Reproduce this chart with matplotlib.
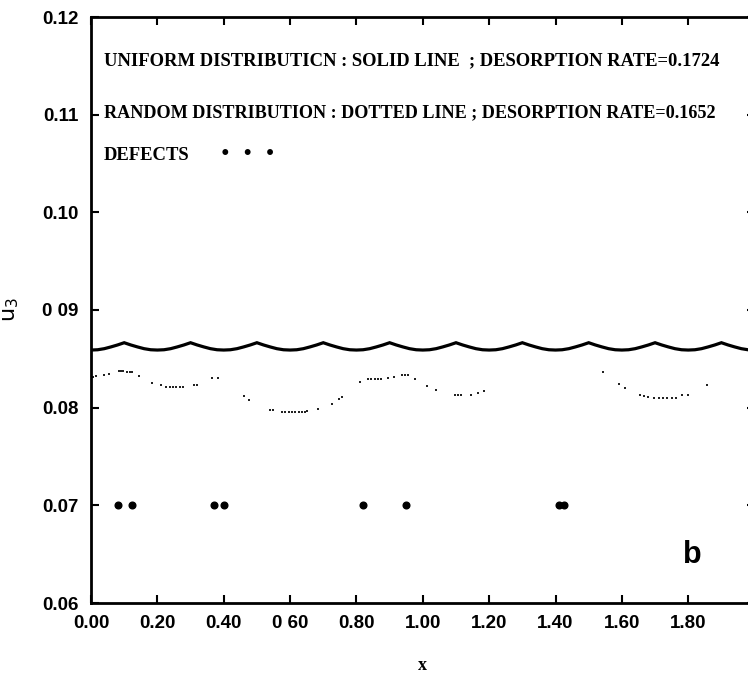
import numpy as np
import matplotlib
matplotlib.use("Agg")
import matplotlib.pyplot as plt

# uniform distribution (solid line)
ux = [0.00, 0.02, 0.04, 0.06, 0.08, 0.10, 0.12, 0.14, 0.16, 0.18,
      0.20, 0.22, 0.24, 0.26, 0.28, 0.30, 0.32, 0.34, 0.36, 0.38,
      0.40, 0.42, 0.44, 0.46, 0.48, 0.50, 0.52, 0.54, 0.56, 0.58,
      0.60, 0.62, 0.64, 0.66, 0.68, 0.70, 0.72, 0.74, 0.76, 0.78,
      0.80, 0.82, 0.84, 0.86, 0.88, 0.90, 0.92, 0.94, 0.96, 0.98,
      1.00, 1.02, 1.04, 1.06, 1.08, 1.10, 1.12, 1.14, 1.16, 1.18,
      1.20, 1.22, 1.24, 1.26, 1.28, 1.30, 1.32, 1.34, 1.36, 1.38,
      1.40, 1.42, 1.44, 1.46, 1.48, 1.50, 1.52, 1.54, 1.56, 1.58,
      1.60, 1.62, 1.64, 1.66, 1.68, 1.70, 1.72, 1.74, 1.76, 1.78,
      1.80, 1.82, 1.84, 1.86, 1.88, 1.90, 1.92, 1.94, 1.96, 1.98, 2.00]
uy = [0.08590, 0.08593, 0.08604, 0.08622, 0.08642, 0.08665, 0.08642, 0.08622, 0.08604, 0.08593,
      0.08590, 0.08593, 0.08604, 0.08622, 0.08642, 0.08665, 0.08642, 0.08622, 0.08604, 0.08593,
      0.08590, 0.08593, 0.08604, 0.08622, 0.08642, 0.08665, 0.08642, 0.08622, 0.08604, 0.08593,
      0.08590, 0.08593, 0.08604, 0.08622, 0.08642, 0.08665, 0.08642, 0.08622, 0.08604, 0.08593,
      0.08590, 0.08593, 0.08604, 0.08622, 0.08642, 0.08665, 0.08642, 0.08622, 0.08604, 0.08593,
      0.08590, 0.08593, 0.08604, 0.08622, 0.08642, 0.08665, 0.08642, 0.08622, 0.08604, 0.08593,
      0.08590, 0.08593, 0.08604, 0.08622, 0.08642, 0.08665, 0.08642, 0.08622, 0.08604, 0.08593,
      0.08590, 0.08593, 0.08604, 0.08622, 0.08642, 0.08665, 0.08642, 0.08622, 0.08604, 0.08593,
      0.08590, 0.08593, 0.08604, 0.08622, 0.08642, 0.08665, 0.08642, 0.08622, 0.08604, 0.08593,
      0.08590, 0.08593, 0.08604, 0.08622, 0.08642, 0.08665, 0.08642, 0.08622, 0.08604, 0.08593, 0.08590]

# random distribution (dotted line)
rx = [0.005, 0.015, 0.038, 0.055, 0.083, 0.090, 0.096, 0.109, 0.117, 0.125, 0.144,
      0.185, 0.210, 0.227, 0.237, 0.247, 0.257, 0.267, 0.278, 0.309, 0.319, 0.364, 0.383,
      0.461, 0.477, 0.540, 0.550, 0.576, 0.586, 0.596, 0.606, 0.616, 0.626, 0.636, 0.645,
      0.652, 0.683, 0.725, 0.747, 0.756,
      0.810, 0.836, 0.845, 0.855, 0.865, 0.874, 0.895, 0.912, 0.937, 0.947, 0.956,
      0.975, 1.013, 1.039, 1.096, 1.105, 1.115, 1.144, 1.165, 1.184,
      1.542, 1.590, 1.609, 1.654, 1.667, 1.679, 1.698, 1.711, 1.724, 1.737, 1.750,
      1.762, 1.781, 1.800, 1.857]
ry = [0.08310, 0.08321, 0.08335, 0.08345, 0.08373, 0.08375, 0.08373, 0.08365, 0.08365, 0.08362, 0.08320,
      0.08253, 0.08229, 0.08212, 0.08210, 0.08210, 0.08210, 0.08212, 0.08214, 0.08232, 0.08234, 0.08301, 0.08301,
      0.08120, 0.08082, 0.07980, 0.07975, 0.07960, 0.07958, 0.07955, 0.07954, 0.07954, 0.07956, 0.07958, 0.07960,
      0.07962, 0.07990, 0.08040, 0.08090, 0.08113,
      0.08263, 0.08292, 0.08294, 0.08294, 0.08294, 0.08296, 0.08307, 0.08310, 0.08332, 0.08334, 0.08330,
      0.08291, 0.08219, 0.08184, 0.08133, 0.08133, 0.08133, 0.08133, 0.08150, 0.08174,
      0.08365, 0.08239, 0.08202, 0.08127, 0.08120, 0.08112, 0.08100, 0.08098, 0.08097, 0.08097, 0.08099,
      0.08102, 0.08127, 0.08130, 0.08229]

# defects
dx = [0.082, 0.123, 0.370, 0.401, 0.819, 0.948, 1.409, 1.425]
dy = [0.07, 0.07, 0.07, 0.07, 0.07, 0.07, 0.07, 0.07]

xt = [0.0, 0.2, 0.4, 0.6, 0.8, 1.0, 1.2, 1.4, 1.6, 1.8, 2.0]
xtl = ["0.00", "0.20", "0.40", "0 60", "0.80", "1.00", "1.20", "1.40", "1.60", "1.80", ""]
yt = [0.06, 0.07, 0.08, 0.09, 0.10, 0.11, 0.12]
ytl = ["0.06", "0.07", "0.08", "0 09", "0.10", "0.11", "0.12"]

fig = plt.figure(figsize=(7.48, 6.76), dpi=100)
# axes runs a little past the right edge of the figure, like the scan
ax = fig.add_axes([91/748, 73/676, 663.6/748, 586/676])

ax.plot(ux, uy, color="black", lw=2.3, solid_joinstyle="miter")
ax.plot(rx, ry, ls="none", marker="s", ms=1.6, color="#222222", mew=0)
ax.plot(dx, dy, ls="none", marker="o", ms=4.8, color="black")

ax.set_xlim(0, 2.0)
ax.set_ylim(0.06, 0.12)
ax.set_xticks(xt)
ax.set_xticklabels(xtl)
ax.set_yticks(yt)
ax.set_yticklabels(ytl)

for t in ax.get_xticklabels() + ax.get_yticklabels():
    t.set_fontfamily(["Liberation Sans Narrow", "Liberation Sans", "DejaVu Sans"])
    t.set_fontweight("bold")
    t.set_fontsize(13.5)

ax.tick_params(axis="x", direction="in", length=6, width=1.5, top=True, pad=9)
ax.tick_params(axis="y", direction="in", length=6, width=1.5, right=True, pad=9)
for s in ax.spines.values():
    s.set_linewidth(2)

ax.set_xlabel("x", fontfamily="Liberation Serif", fontweight="bold", fontsize=13, labelpad=18)
ax.set_ylabel(r"$\mathregular{u_3}$", fontsize=16, labelpad=14)
ax.yaxis.set_label_coords(-0.105, 0.5)

tfont = dict(family=["Liberation Serif", "DejaVu Serif"], weight="bold", transform=ax.transAxes)
ax.text(0.019, 0.926, "UNIFORM DISTRIBUTICN : SOLID LINE  ; DESORPTION RATE=0.1724", va="center", size=13.4, **tfont)
ax.text(0.019, 0.836, "RANDOM DISTRIBUTION : DOTTED LINE ; DESORPTION RATE=0.1652", va="center", size=13.1, **tfont)
ax.text(0.019, 0.764, "DEFECTS", va="center", size=13.4, **tfont)
ax.text(0.195, 0.766, "\u2022  \u2022  \u2022", va="center", transform=ax.transAxes,
        fontfamily="DejaVu Sans", fontweight="bold", fontsize=12.2)

ax.text(0.906, 0.082, "b", transform=ax.transAxes, fontfamily="Liberation Sans", fontweight="bold",
        fontsize=22, ha="center", va="center")

fig.savefig("out.png", dpi=100)
